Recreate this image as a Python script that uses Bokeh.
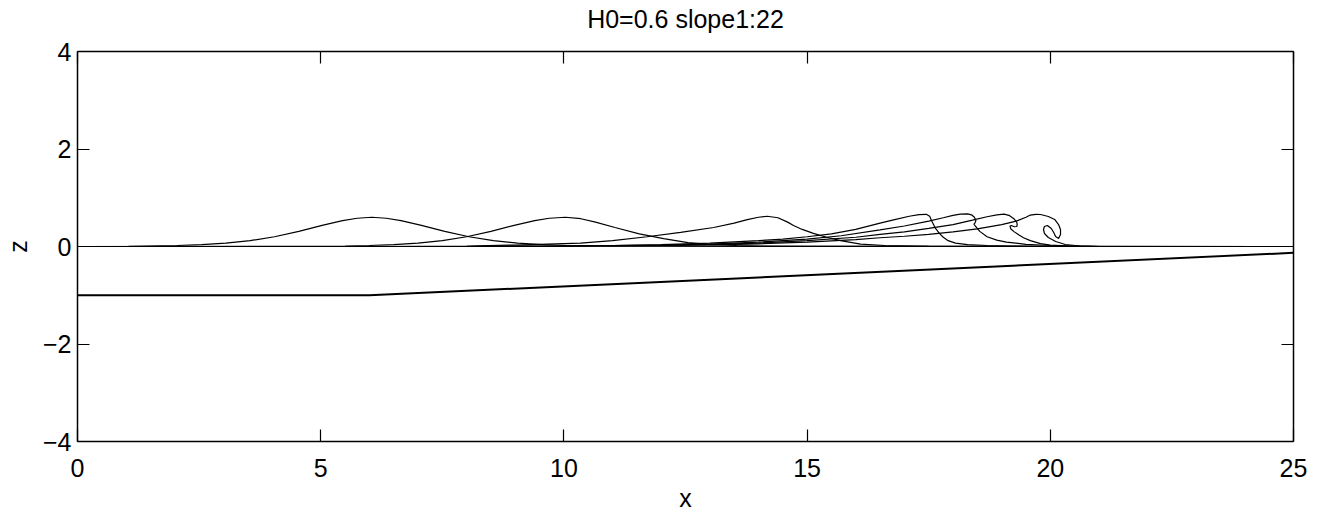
from bokeh.plotting import figure
from bokeh.models import LinearAxis, FixedTicker, Range1d
from bokeh.embed import file_html
from bokeh.resources import INLINE

title_text = "H0=0.6 slope1:22"
x_label = "x"
y_label = "z"
x_ticks = [0, 5, 10, 15, 20, 25]
y_ticks = [-4, -2, 0, 2, 4]
y_tick_labels = {-4: "\u22124", -2: "\u22122", 0: "0", 2: "2", 4: "4"}

bottom_x = [0, 6.0, 25]
bottom_z = [-1, -1, -0.13]

wave1_x = [0, 1.05, 2.05, 2.55, 3.05, 3.55, 4.05, 4.55, 5.05, 5.45, 5.75, 6.05, 6.35, 6.65, 7.05, 7.55, 8.05, 8.55, 9.05, 9.55, 10.05, 11.05, 25]
wave1_z = [0, 0.005, 0.02, 0.04, 0.07, 0.12, 0.2, 0.31, 0.44, 0.53, 0.58, 0.6, 0.58, 0.53, 0.44, 0.31, 0.2, 0.12, 0.07, 0.04, 0.02, 0.005, 0]

wave2_x = [0, 4.0, 5.0, 5.5, 6.0, 6.5, 7.0, 7.5, 8.0, 8.5, 9.0, 9.4, 9.7, 10.03, 10.35, 10.65, 11.05, 11.55, 12.05, 12.55, 13.05, 13.55, 14.05, 15.0, 25]
wave2_z = [0, 0.002, 0.005, 0.01, 0.02, 0.04, 0.07, 0.12, 0.2, 0.31, 0.44, 0.53, 0.58, 0.6, 0.57, 0.5, 0.39, 0.26, 0.16, 0.08, 0.04, 0.02, 0.01, 0.003, 0]

wave3_x = [0, 6, 8, 9, 10, 10.34, 11, 11.71, 12.4, 13.08, 13.5, 13.77, 14.0, 14.18, 14.4, 14.6, 14.72, 14.9, 15.13, 15.4, 15.69, 16.1, 16.6, 17.5, 18.5, 25]
wave3_z = [0, 0.0, 0.01, 0.03, 0.06, 0.07, 0.12, 0.2, 0.29, 0.39, 0.48, 0.55, 0.6, 0.62, 0.59, 0.5, 0.43, 0.35, 0.27, 0.19, 0.12, 0.05, 0.02, 0.005, 0, 0]

wave4_x = [0, 8, 10, 11, 12, 13, 14, 14.5, 15, 15.5, 16, 16.5, 16.8, 17.1, 17.3, 17.45, 17.52, 17.56, 17.64, 17.72, 17.8, 17.9, 18.05, 18.3, 18.7, 19.2, 20, 25]
wave4_z = [0, 0, 0.01, 0.02, 0.04, 0.07, 0.12, 0.15, 0.2, 0.26, 0.35, 0.48, 0.55, 0.62, 0.655, 0.66, 0.62, 0.53, 0.37, 0.27, 0.19, 0.12, 0.07, 0.04, 0.02, 0.007, 0, 0]

wave5_x = [0, 8, 10, 12, 13, 14, 15, 15.7, 16.5, 17, 17.5, 17.8, 18.0, 18.15, 18.3, 18.38, 18.44, 18.47, 18.45, 18.43, 18.46, 18.55, 18.7, 18.9, 19.1, 19.5, 20, 20.5, 21, 25]
wave5_z = [0, 0, 0.01, 0.03, 0.05, 0.09, 0.15, 0.22, 0.34, 0.42, 0.52, 0.59, 0.64, 0.665, 0.67, 0.65, 0.6, 0.53, 0.48, 0.46, 0.42, 0.31, 0.2, 0.13, 0.09, 0.045, 0.02, 0.007, 0, 0]

wave6_x = [0, 8, 10, 12, 13, 14, 15, 16, 16.5, 17, 17.5, 18, 18.4, 18.7, 18.9, 19.05, 19.15, 19.25, 19.31, 19.32, 19.31, 19.26, 19.2, 19.17, 19.19, 19.26, 19.35, 19.45, 19.59, 19.8, 20.0, 20.4, 21, 25]
wave6_z = [0, 0, 0.005, 0.02, 0.04, 0.07, 0.12, 0.19, 0.25, 0.3, 0.37, 0.45, 0.54, 0.61, 0.65, 0.665, 0.64, 0.57, 0.5, 0.45, 0.41, 0.405, 0.43, 0.42, 0.36, 0.3, 0.24, 0.18, 0.12, 0.06, 0.03, 0.01, 0, 0]

wave7_x = [0, 8, 10, 12, 13, 14, 15, 16, 16.5, 17, 17.5, 18, 18.5, 19, 19.3, 19.5, 19.59, 19.7, 19.8, 19.96, 20.09, 20.17, 20.21, 20.21, 20.17, 20.11, 20.07, 20.02, 19.94, 19.88, 19.86, 19.88, 19.96, 20.11, 20.31, 20.62, 21.03, 22, 25]
wave7_z = [0, 0, 0.005, 0.02, 0.035, 0.055, 0.09, 0.14, 0.18, 0.21, 0.25, 0.3, 0.36, 0.45, 0.52, 0.6, 0.645, 0.66, 0.656, 0.615, 0.554, 0.451, 0.349, 0.246, 0.164, 0.205, 0.287, 0.369, 0.431, 0.41, 0.349, 0.267, 0.185, 0.103, 0.041, 0.01, 0.0, 0, 0]

waves = [(wave1_x, wave1_z), (wave2_x, wave2_z), (wave3_x, wave3_z), (wave4_x, wave4_z),
         (wave5_x, wave5_z), (wave6_x, wave6_z), (wave7_x, wave7_z)]

FONT = "Liberation Sans"
FS = "25px"

p = figure(width=1325, height=514, output_backend="svg", toolbar_location=None,
           x_range=Range1d(0, 25), y_range=Range1d(-4, 4),
           min_border_left=77, min_border_right=32, min_border_top=51, min_border_bottom=73)

p.xgrid.visible = False
p.ygrid.visible = False
p.outline_line_color = None
p.background_fill_color = "white"
p.border_fill_color = "white"

for (xs, zs) in waves:
    p.line(xs, zs, line_color="black", line_width=1.2)
p.line(bottom_x, bottom_z, line_color="black", line_width=2)

def style(ax, labels=True):
    ax.axis_line_color = "black"
    ax.axis_line_width = 1.5
    ax.major_tick_in = 12
    ax.major_tick_out = 0
    ax.minor_tick_line_color = None
    ax.major_tick_line_color = "black"
    ax.major_tick_line_width = 1.2
    ax.axis_label_text_font = FONT
    ax.axis_label_text_font_size = FS
    ax.axis_label_text_font_style = "normal"
    ax.axis_label_text_color = "black"
    if labels:
        ax.major_label_text_font = FONT
        ax.major_label_text_font_size = FS
        ax.major_label_text_color = "black"
    else:
        ax.major_label_text_font_size = "1px"
        ax.major_label_standoff = 0

xa = p.xaxis[0]
ya = p.yaxis[0]
xa.ticker = FixedTicker(ticks=x_ticks)
ya.ticker = FixedTicker(ticks=y_ticks)
ya.major_label_overrides = y_tick_labels
xa.axis_label = x_label
ya.axis_label = y_label
style(xa)
style(ya)
xa.major_label_standoff = 17
ya.major_label_standoff = 6
xa.axis_label_standoff = 4
ya.axis_label_standoff = 8

top = LinearAxis(ticker=FixedTicker(ticks=x_ticks),
                 major_label_overrides={t: "" for t in x_ticks})
right = LinearAxis(ticker=FixedTicker(ticks=y_ticks),
                   major_label_overrides={t: "" for t in y_ticks})
style(top, labels=False)
style(right, labels=False)
top.axis_label = title_text
top.axis_label_standoff = 19
p.add_layout(top, "above")
p.add_layout(right, "right")

open("out.html", "w").write(file_html(p, INLINE))
